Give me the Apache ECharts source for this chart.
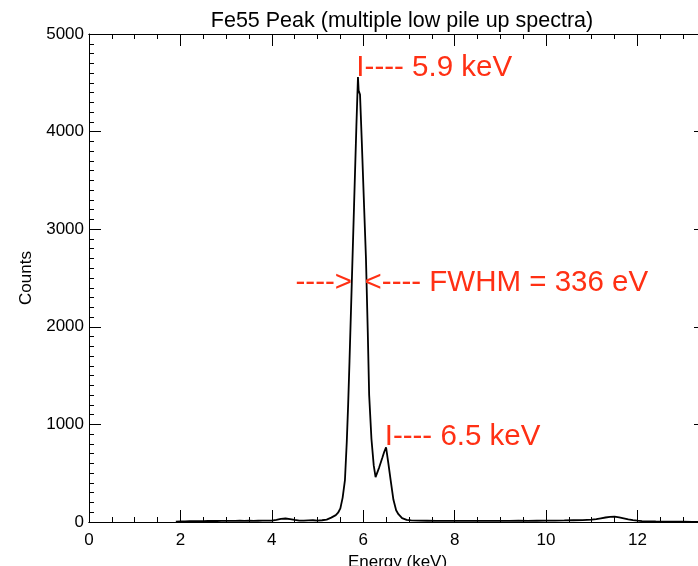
<!DOCTYPE html>
<html><head><meta charset="utf-8">
<script src="https://cdn.jsdelivr.net/npm/echarts@6/dist/echarts.min.js"></script>
<style>html,body{margin:0;padding:0;background:#fff}#c{width:698px;height:566px}</style>
</head><body><div id="c"></div>
<script>
// ---- data ----
const energy = [1.90,2.00,2.10,2.20,2.30,2.40,2.50,2.60,2.70,2.80,2.90,3.00,3.10,3.20,3.30,3.40,3.50,3.60,3.70,3.80,3.90,4.00,4.10,4.20,4.30,4.40,4.50,4.60,4.70,4.80,4.90,5.00,5.10,5.20,5.30,5.40,5.45,5.50,5.55,5.60,5.64,5.67,5.70,5.75,5.80,5.85,5.885,5.90,5.93,5.97,6.02,6.06,6.10,6.13,6.18,6.23,6.27,6.35,6.42,6.46,6.50,6.55,6.60,6.66,6.72,6.77,6.85,6.95,7.05,7.20,7.40,7.60,7.80,8.00,8.20,8.40,8.60,8.80,9.00,9.20,9.40,9.60,9.80,10.00,10.20,10.40,10.60,10.80,11.00,11.10,11.20,11.30,11.40,11.50,11.60,11.70,11.80,11.90,12.00,12.10,12.20,12.40,12.60,12.80,13.00,13.20,13.50];
const counts = [4,6,7,8,8,9,9,10,11,10,11,12,11,12,13,12,13,12,13,14,14,15,22,32,36,30,22,15,14,16,18,15,18,25,45,70,95,140,250,430,820,1200,1650,2450,3250,4050,4560,4420,4380,3880,3220,2700,1940,1300,850,580,460,560,660,720,765,600,430,230,120,80,40,22,16,14,13,12,12,11,12,11,12,11,12,12,13,12,13,14,15,16,18,20,25,30,38,46,52,54,48,38,28,20,14,10,7,5,4,3,3,2,2];

const xMin = 0, xMax = 13.5, xMajor = 2, xMinor = 0.5;
const yMin = 0, yMax = 5000, yMajor = 1000, yMinorSplit = 10;

const titleText = 'Fe55 Peak (multiple low pile up spectra)';
const xName = 'Energy (keV)';
const yName = 'Counts';

const annoText = ['I---- 5.9 keV', '---->', '<---- FWHM = 336 eV', 'I---- 6.5 keV'];
const annoX = [5.85, 5.755, 6.03, 6.47];
const annoY = [4652, 2449, 2449, 871];
const annoSide = ['right', 'left', 'right', 'right'];

// ---- chart ----
const F = '"Liberation Sans", Arial, Helvetica, sans-serif';
const RED = '#ff3014';
const line = { show: true, onZero: false, lineStyle: { color: '#000', width: 1 } };
const plain = v => String(v);

function xAx(pos, interval, len, labels, extra) {
  return Object.assign({
    type: 'value', position: pos, min: xMin, max: xMax, interval: interval,
    axisLine: line,
    axisTick: { show: true, inside: true, length: len, lineStyle: { color: '#000', width: 1 } },
    axisLabel: { show: labels, showMaxLabel: false, fontSize: 17, color: '#000', fontFamily: F, margin: 10, formatter: plain },
    splitLine: { show: false }, minorTick: { show: false }
  }, extra || {});
}
function yAx(pos, labels, extra) {
  return Object.assign({
    type: 'value', position: pos, min: yMin, max: yMax, interval: yMajor,
    axisLine: line,
    axisTick: { show: true, inside: true, length: 12, lineStyle: { color: '#000', width: 1 } },
    minorTick: { show: true, splitNumber: yMinorSplit, length: 5, lineStyle: { color: '#000', width: 1 } },
    axisLabel: { show: labels, fontSize: 17, color: '#000', fontFamily: F, margin: 5, formatter: plain },
    splitLine: { show: false }
  }, extra || {});
}

const chart = echarts.init(document.getElementById('c'), null, { renderer: 'canvas' });
chart.setOption({
  animation: false,
  backgroundColor: '#fff',
  title: {
    text: titleText, left: 397, top: 5, textAlign: 'center',
    textStyle: { fontSize: 21.5, fontWeight: 'normal', color: '#000', fontFamily: F }
  },
  grid: { left: 89, top: 34, width: 617, height: 488, containLabel: false, outerBoundsMode: 'none' },
  xAxis: [
    xAx('bottom', xMajor, 12, true, {
      name: xName, nameLocation: 'middle', nameGap: 27,
      nameTextStyle: { fontSize: 17, color: '#000', fontFamily: F }
    }),
    xAx('bottom', xMinor, 5, false),
    xAx('top', xMajor, 12, false),
    xAx('top', xMinor, 5, false)
  ],
  yAxis: [
    yAx('left', true, {
      name: yName, nameLocation: 'middle', nameGap: 53,
      nameTextStyle: { fontSize: 17, color: '#000', fontFamily: F }
    }),
    yAx('right', false)
  ],
  series: [{
    type: 'line',
    xAxisIndex: 0, yAxisIndex: 0,
    data: energy.map((e, i) => [e, counts[i]]),
    showSymbol: false, symbol: 'none',
    lineStyle: { color: '#000', width: 1.8 },
    markPoint: {
      symbol: 'circle', symbolSize: 0, animation: false,
      data: annoText.map((t, i) => ({
        coord: [annoX[i], annoY[i]],
        label: {
          show: true, formatter: t, position: annoSide[i], distance: 0,
          color: RED, fontSize: 29.5, fontFamily: F
        }
      }))
    }
  }]
});
</script></body></html>
